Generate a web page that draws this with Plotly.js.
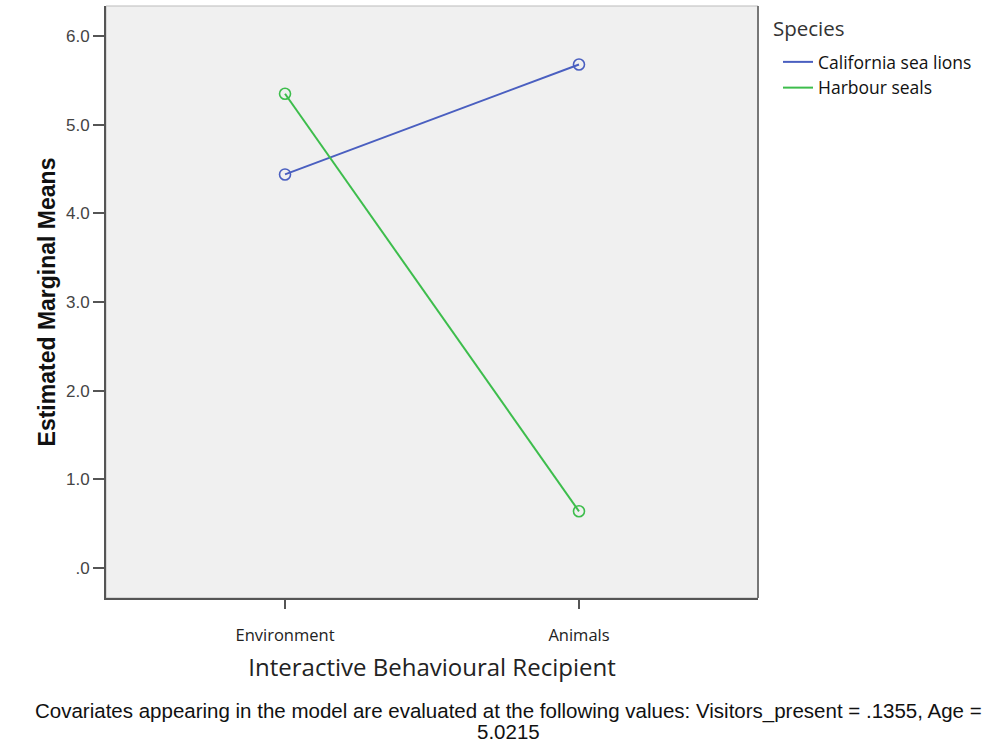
<!DOCTYPE html>
<html>
<head>
<meta charset="utf-8">
<script src="https://cdn.plot.ly/plotly-3.0.1.min.js"></script>
<style>html,body{margin:0;padding:0;background:#fff;}#chart{width:995px;height:744px;}</style>
</head>
<body>
<div id="chart"></div>
<script>
const categories = ["Environment", "Animals"];
const seriesNames = ["California sea lions", "Harbour seals"];
const seaLions = [4.44, 5.68];
const harbourSeals = [5.35, 0.64];
const yTickVals = [0, 1, 2, 3, 4, 5, 6];
const yTickText = [".0", "1.0", "2.0", "3.0", "4.0", "5.0", "6.0"];
const footnoteLines = [
  "Covariates appearing in the model are evaluated at the following values: Visitors_present = .1355, Age =",
  "5.0215"
];
const colors = ["#4a5fc0", "#3dbd4c"];

const seriesValues = [seaLions, harbourSeals];
const traces = [];
seriesValues.forEach((vals, i) => {
  traces.push({
    x: categories, y: vals, type: "scatter", mode: "lines+markers",
    line: {color: colors[i], width: 2},
    marker: {symbol: "circle-open", size: 11, color: colors[i], line: {width: 1.6, color: colors[i]}},
    showlegend: false, hoverinfo: "skip"
  });
});
seriesValues.forEach((vals, i) => {
  traces.push({
    x: [null], y: [null], type: "scatter", mode: "lines", name: seriesNames[i],
    line: {color: colors[i], width: 2}, showlegend: true
  });
});

const plotTop = 6, plotBottom = 598, plotLeft = 106, plotRight = 758;
const py = px => (plotBottom - px) / (plotBottom - plotTop);
const pxX = px => (px - plotLeft) / (plotRight - plotLeft);

const layout = {
  width: 995, height: 744,
  margin: {l: 106, r: 237, t: 6, b: 146},
  paper_bgcolor: "#ffffff",
  plot_bgcolor: "#f0f0f0",
  font: {family: "Liberation Sans, Arial, sans-serif", color: "#333"},
  xaxis: {
    type: "category",
    range: [-0.609, 1.609],
    showgrid: false, zeroline: false,
    showline: true, linecolor: "#555", linewidth: 2,
    ticks: "outside", ticklen: 9, tickwidth: 2, tickcolor: "#555",
    tickfont: {family: "Open Sans, Noto Sans, sans-serif", size: 16.5, color: "#222"},
    ticklabelstandoff: 12,
    title: {text: "Interactive Behavioural Recipient", standoff: 14,
            font: {family: "Open Sans, Noto Sans, sans-serif", size: 24, color: "#222"}}
  },
  yaxis: {
    range: [-0.338, 6.34],
    tickvals: yTickVals, ticktext: yTickText,
    showgrid: false, zeroline: false,
    showline: true, linecolor: "#555", linewidth: 2,
    ticks: "outside", ticklen: 11, tickwidth: 2, tickcolor: "#555",
    tickfont: {family: "Liberation Sans, Arial, sans-serif", size: 17, color: "#444"},
    title: {text: "<b>Estimated Marginal Means</b>", standoff: 4,
            font: {family: "Liberation Sans, Arial, sans-serif", size: 23, color: "#111"}}
  },
  legend: {
    x: pxX(778), xanchor: "left", y: py(44), yanchor: "top",
    bgcolor: "rgba(0,0,0,0)",
    font: {family: "Open Sans, Noto Sans, sans-serif", size: 17.5, color: "#111"},
    itemwidth: 30, tracegroupgap: 0
  },
  shapes: [
    {type: "rect", xref: "paper", yref: "paper", x0: 0, x1: 1, y0: 0, y1: 1,
     line: {color: "#bbb", width: 1}, layer: "below"},
    {type: "line", xref: "paper", yref: "paper", x0: 1, x1: 1, y0: 0, y1: 1,
     line: {color: "#777", width: 2}}
  ],
  annotations: [
    {xref: "paper", yref: "paper", x: pxX(771), y: py(28), xanchor: "left", yanchor: "middle",
     showarrow: false, text: "Species",
     font: {family: "Open Sans, Noto Sans, sans-serif", size: 20.5, color: "#333"}},
    {xref: "paper", yref: "paper", x: pxX(508), y: py(711), xanchor: "center", yanchor: "middle",
     showarrow: false, text: footnoteLines[0],
     font: {family: "Liberation Sans, Arial, sans-serif", size: 20.5, color: "#111"}},
    {xref: "paper", yref: "paper", x: pxX(508), y: py(731), xanchor: "center", yanchor: "middle",
     showarrow: false, text: footnoteLines[1],
     font: {family: "Liberation Sans, Arial, sans-serif", size: 20.5, color: "#111"}}
  ]
};

Plotly.newPlot("chart", traces, layout, {displayModeBar: false, staticPlot: true});
</script>
</body>
</html>
